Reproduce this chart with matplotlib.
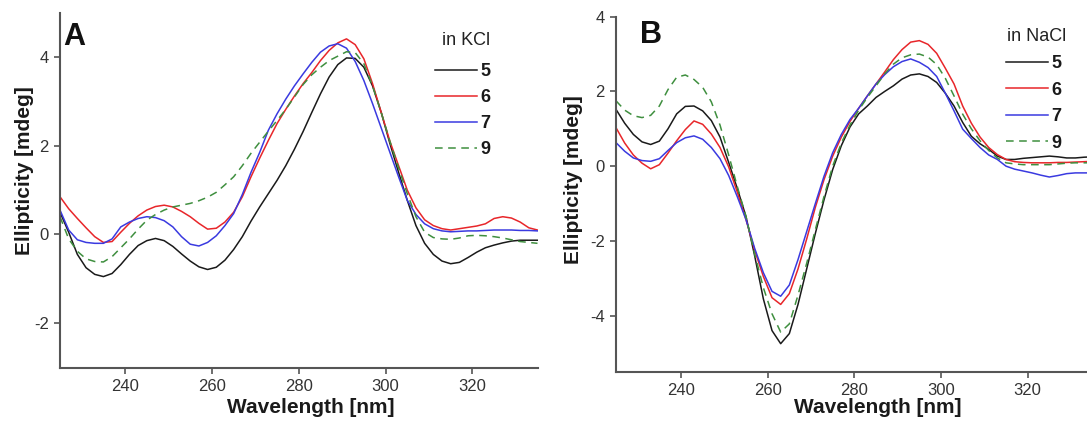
import matplotlib
matplotlib.use("Agg")
import matplotlib.pyplot as plt

plt.rcParams['font.family'] = ['Liberation Sans', 'DejaVu Sans']
plt.rcParams['axes.unicode_minus'] = False

# ---------------- Panel A (in KCl) ----------------
wl_a = list(range(225, 337, 2))
a5 = [0.50, 0.05, -0.45, -0.75, -0.90, -0.95, -0.88, -0.68, -0.45, -0.25, -0.14, -0.09,
      -0.14, -0.27, -0.44, -0.60, -0.73, -0.79, -0.74, -0.58, -0.34, -0.05, 0.30, 0.62,
      0.92, 1.22, 1.55, 1.92, 2.32, 2.75, 3.17, 3.55, 3.83, 3.98, 3.97, 3.77, 3.35, 2.75,
      2.05, 1.40, 0.77, 0.20, -0.20, -0.45, -0.60, -0.66, -0.63, -0.52, -0.40, -0.30,
      -0.24, -0.19, -0.15, -0.13, -0.13, -0.13]
a6 = [0.85, 0.58, 0.36, 0.15, -0.05, -0.18, -0.16, 0.05, 0.25, 0.42, 0.55, 0.63, 0.66,
      0.62, 0.52, 0.40, 0.25, 0.12, 0.14, 0.28, 0.50, 0.85, 1.30, 1.72, 2.12, 2.50, 2.82,
      3.12, 3.40, 3.65, 3.92, 4.15, 4.32, 4.41, 4.28, 3.96, 3.40, 2.75, 2.10, 1.55, 1.00,
      0.60, 0.33, 0.20, 0.13, 0.10, 0.13, 0.16, 0.19, 0.24, 0.36, 0.40, 0.37, 0.28, 0.15,
      0.10]
a7 = [0.55, 0.10, -0.12, -0.18, -0.20, -0.20, -0.10, 0.17, 0.28, 0.36, 0.40, 0.38, 0.31,
      0.17, -0.05, -0.22, -0.26, -0.18, -0.03, 0.20, 0.47, 0.90, 1.40, 1.85, 2.35, 2.72,
      3.05, 3.35, 3.62, 3.88, 4.11, 4.25, 4.30, 4.20, 3.90, 3.47, 2.95, 2.40, 1.85, 1.30,
      0.77, 0.45, 0.24, 0.13, 0.08, 0.06, 0.07, 0.08, 0.08, 0.09, 0.10, 0.10, 0.10, 0.09,
      0.09, 0.08]
a9 = [0.40, -0.10, -0.38, -0.55, -0.61, -0.62, -0.50, -0.30, -0.10, 0.12, 0.32, 0.45,
      0.55, 0.62, 0.66, 0.70, 0.76, 0.84, 0.95, 1.12, 1.30, 1.55, 1.83, 2.08, 2.33, 2.57,
      2.82, 3.10, 3.38, 3.60, 3.77, 3.92, 4.02, 4.12, 4.10, 3.85, 3.35, 2.75, 2.10, 1.50,
      0.92, 0.40, 0.05, -0.07, -0.10, -0.11, -0.08, -0.03, -0.02, -0.03, -0.05, -0.08,
      -0.12, -0.16, -0.18, -0.20]

# ---------------- Panel B (in NaCl) ----------------
wl_b = list(range(225, 341, 2))
b5 = [1.52, 1.15, 0.85, 0.65, 0.58, 0.67, 1.00, 1.40, 1.60, 1.61, 1.48, 1.22, 0.78, 0.10,
      -0.60, -1.35, -2.40, -3.55, -4.40, -4.75, -4.48, -3.70, -2.75, -1.80, -0.90, -0.09,
      0.55, 1.05, 1.40, 1.61, 1.84, 2.00, 2.15, 2.33, 2.44, 2.47, 2.40, 2.24, 1.95, 1.61,
      1.17, 0.80, 0.60, 0.45, 0.27, 0.18, 0.18, 0.21, 0.23, 0.25, 0.27, 0.25, 0.22, 0.22,
      0.24, 0.25, 0.26, 0.27]
b6 = [1.03, 0.62, 0.30, 0.08, -0.07, 0.04, 0.35, 0.68, 0.98, 1.21, 1.12, 0.86, 0.50,
      -0.02, -0.70, -1.43, -2.25, -2.95, -3.52, -3.70, -3.41, -2.75, -1.95, -1.10, -0.36,
      0.27, 0.78, 1.20, 1.55, 1.88, 2.20, 2.52, 2.85, 3.12, 3.32, 3.36, 3.26, 3.02, 2.62,
      2.20, 1.61, 1.15, 0.78, 0.50, 0.31, 0.18, 0.12, 0.10, 0.09, 0.09, 0.09, 0.10, 0.10,
      0.11, 0.12, 0.13, 0.13, 0.13]
b7 = [0.63, 0.40, 0.22, 0.15, 0.13, 0.20, 0.42, 0.63, 0.76, 0.81, 0.72, 0.50, 0.20,
      -0.25, -0.82, -1.43, -2.20, -2.85, -3.35, -3.48, -3.18, -2.50, -1.75, -1.00, -0.27,
      0.36, 0.85, 1.25, 1.55, 1.88, 2.20, 2.45, 2.66, 2.80, 2.87, 2.78, 2.64, 2.40, 1.95,
      1.48, 0.99, 0.74, 0.50, 0.30, 0.18, 0.00, -0.08, -0.13, -0.18, -0.24, -0.29, -0.25,
      -0.20, -0.18, -0.18, -0.18, -0.20, -0.22]
b9 = [1.75, 1.50, 1.35, 1.30, 1.36, 1.61, 2.05, 2.38, 2.44, 2.32, 2.11, 1.72, 1.10, 0.30,
      -0.55, -1.35, -2.35, -3.25, -3.95, -4.44, -4.22, -3.45, -2.60, -1.70, -0.81, 0.00,
      0.62, 1.10, 1.50, 1.84, 2.15, 2.47, 2.73, 2.90, 2.98, 3.00, 2.92, 2.72, 2.35, 1.88,
      1.39, 1.00, 0.68, 0.42, 0.22, 0.09, 0.06, 0.04, 0.04, 0.04, 0.04, 0.06, 0.08, 0.09,
      0.09, 0.09, 0.10, 0.11]

labels = ['5', '6', '7', '9']
colors = ['#1a1a1a', '#e8262a', '#3a3ae0', '#3f8f3f']
styles = ['-', '-', '-', (0, (5, 3.6))]

xticks = [240, 260, 280, 300, 320]
yticks_a = [-2, 0, 2, 4]
yticks_b = [-4, -2, 0, 2, 4]

for s in (a5, a6, a7, a9):
    assert len(s) == len(wl_a)
for s in (b5, b6, b7, b9):
    assert len(s) == len(wl_b)

W, H = 1087, 426
fig = plt.figure(figsize=(W / 100, H / 100), dpi=100)

def px_axes(l, t, r, b):
    return fig.add_axes([l / W, 1 - b / H, (r - l) / W, (b - t) / H])

axA = px_axes(60, 12.7, 537.5, 367.5)
axB = px_axes(616, 16.7, 1092.7, 371.7)

def style(ax, yticks):
    for s in ['top', 'right']:
        ax.spines[s].set_visible(False)
    for s in ['left', 'bottom']:
        ax.spines[s].set_color('#555555')
        ax.spines[s].set_linewidth(1.5)
    ax.set_xticks(xticks)
    ax.set_yticks(yticks)
    ax.tick_params(axis='both', direction='out', length=4, width=1.2, color='#555555',
                   labelsize=12, labelcolor='#333333', pad=4)

for y, lab, c, ls in zip([a5, a6, a7, a9], labels, colors, styles):
    axA.plot(wl_a, y, color=c, linestyle=ls, linewidth=1.1, label=lab)
axA.set_xlim(225, 335)
axA.set_ylim(-3, 5)
style(axA, yticks_a)

for y, lab, c, ls in zip([b5, b6, b7, b9], labels, colors, styles):
    axB.plot(wl_b, y, color=c, linestyle=ls, linewidth=1.1, label=lab)
axB.set_xlim(225, 335)
axB.set_ylim(-5.5, 4)
style(axB, yticks_b)

lab_kw = dict(fontsize=15, fontweight='bold', color='#1a1a1a')
axA.set_xlabel('Wavelength [nm]', va='center', **lab_kw)
axA.xaxis.set_label_coords(0.5246, -0.114)
axA.set_ylabel('Ellipticity [mdeg]', va='center', **lab_kw)
axA.yaxis.set_label_coords(-0.074, 0.554)

axB.set_xlabel('Wavelength [nm]', va='center', **lab_kw)
axB.xaxis.set_label_coords(0.55, -0.102)
axB.set_ylabel('Ellipticity [mdeg]', va='center', **lab_kw)
axB.yaxis.set_label_coords(-0.090, 0.54)

axA.text(0.006, 0.909, 'A', transform=axA.transAxes, fontsize=22, fontweight='bold',
         ha='left', va='baseline', color='#111111')
axB.text(0.050, 0.925, 'B', transform=axB.transAxes, fontsize=22, fontweight='bold',
         ha='left', va='baseline', color='#111111')

def make_legend(ax, title, tx, ty, x, y, spacing):
    ax.text(tx, ty, title, transform=ax.transAxes, fontsize=13, ha='center',
            va='center', color='#222222')
    leg = ax.legend(loc='center left', bbox_to_anchor=(x, y),
                    frameon=False, prop={'weight': 'bold', 'size': 13},
                    handlelength=2.3, handletextpad=0.2, labelspacing=spacing,
                    borderpad=0, borderaxespad=0)
    for t in leg.get_texts():
        t.set_color('#1a1a1a')
    return leg

make_legend(axA, 'in KCl', 0.850, 0.921, 0.7853, 0.7242, 0.49)
make_legend(axB, 'in NaCl', 0.8825, 0.9437, 0.8181, 0.7559, 0.53)

fig.savefig('out.png', dpi=100)
